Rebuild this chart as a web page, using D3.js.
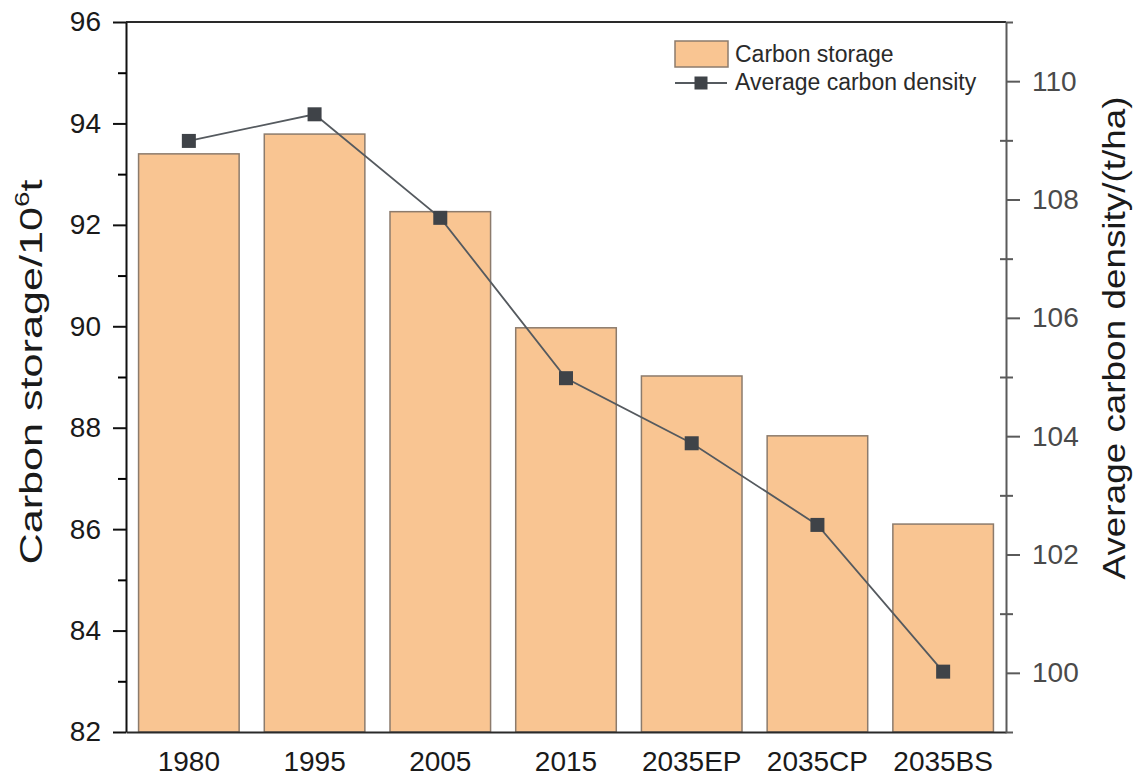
<!DOCTYPE html>
<html>
<head>
<meta charset="utf-8">
<script src="https://cdn.jsdelivr.net/npm/d3@7"></script>
<style>
  body { margin: 0; background: #fff; }
  svg text { font-family: "Liberation Sans", Arial, Helvetica, sans-serif; }
</style>
</head>
<body>
<svg id="chart" width="1135" height="781"></svg>
<script>
// Scenario / year categories
const categories = ["1980", "1995", "2005", "2015", "2035EP", "2035CP", "2035BS"];
// Carbon storage (10^6 t) – bars, left axis
const carbonStorage = [93.40, 93.79, 92.26, 89.97, 89.02, 87.84, 86.10];
// Average carbon density (t/ha) – line, right axis
const carbonDensity = [108.99, 109.44, 107.69, 104.98, 103.88, 102.50, 100.02];
// Axis ticks
const leftTicks = [82, 84, 86, 88, 90, 92, 94, 96];
const leftMinorTicks = [83, 85, 87, 89, 91, 93, 95];
const rightTicks = [100, 102, 104, 106, 108, 110];
const rightMinorTicks = [101, 103, 105, 107, 109];

const svg = d3.select("#chart");
const plot = { left: 126, right: 1006, top: 22, bottom: 732 };

const x = d3.scaleBand()
  .domain(categories)
  .range([plot.left, plot.right])
  .paddingInner(0.2)
  .paddingOuter(0.1);

const yLeft = d3.scaleLinear().domain([82, 96]).range([plot.bottom, plot.top]);
const yRight = d3.scaleLinear().domain([99, 111]).range([plot.bottom, plot.top]);

const barFill = "#f9c592";
const barStroke = "#8c7b6c";

// Bars
svg.append("g")
  .selectAll("rect")
  .data(categories.map((c, i) => ({ c, v: carbonStorage[i] })))
  .join("rect")
  .attr("x", d => x(d.c))
  .attr("y", d => yLeft(d.v))
  .attr("width", x.bandwidth())
  .attr("height", d => yLeft(82) - yLeft(d.v))
  .attr("fill", barFill)
  .attr("stroke", barStroke)
  .attr("stroke-width", 1.5);

// Top frame line
svg.append("line")
  .attr("x1", plot.left).attr("x2", plot.right)
  .attr("y1", plot.top).attr("y2", plot.top)
  .attr("stroke", "#2a2a2a").attr("stroke-width", 2);

// Left axis
const leftAxis = svg.append("g")
  .attr("transform", `translate(${plot.left},0)`)
  .call(d3.axisLeft(yLeft).tickValues(leftTicks).tickSize(13).tickSizeOuter(0).tickPadding(12));
svg.append("g")
  .attr("transform", `translate(${plot.left},0)`)
  .call(d3.axisLeft(yLeft).tickValues(leftMinorTicks).tickSize(8).tickSizeOuter(0).tickFormat(""))
  .call(g => g.select(".domain").remove());
leftAxis.selectAll("path, line").attr("stroke", "#111").attr("stroke-width", 2);
svg.selectAll("g line").attr("stroke-width", 2);
leftAxis.selectAll("text").attr("font-size", 28).attr("fill", "#1a1a1a");

// Bottom axis
const bottomAxis = svg.append("g")
  .attr("transform", `translate(0,${plot.bottom})`)
  .call(d3.axisBottom(x).tickSize(0).tickSizeOuter(0).tickPadding(19));
bottomAxis.select(".domain").attr("stroke", "#2a2a2a").attr("stroke-width", 2);
bottomAxis.selectAll("text").attr("font-size", 28).attr("fill", "#1a1a1a");

// Right axis
const rightColor = "#5a5a5a";
const rightAxis = svg.append("g")
  .attr("transform", `translate(${plot.right},0)`)
  .call(d3.axisRight(yRight).tickValues(rightTicks).tickSize(14).tickSizeOuter(7).tickPadding(12));
rightAxis.selectAll("path, line").attr("stroke", rightColor).attr("stroke-width", 2);
rightAxis.selectAll("text").attr("font-size", 28).attr("fill", "#4a4a4a");
// minor ticks crossing the right axis
svg.append("g")
  .attr("transform", `translate(${plot.right},0)`)
  .call(d3.axisRight(yRight).tickValues(rightMinorTicks).tickSize(7).tickSizeOuter(0).tickFormat(""))
  .call(g => g.select(".domain").remove())
  .selectAll("line").attr("stroke", rightColor).attr("stroke-width", 2);
svg.append("g")
  .attr("transform", `translate(${plot.right},0)`)
  .call(d3.axisLeft(yRight).tickValues(rightMinorTicks).tickSize(6).tickSizeOuter(0).tickFormat(""))
  .call(g => g.select(".domain").remove())
  .selectAll("line").attr("stroke", rightColor).attr("stroke-width", 2);

// Density line and markers
const pts = categories.map((c, i) => ({ c, v: carbonDensity[i] }));
const cx = d => x(d.c) + x.bandwidth() / 2;
svg.append("path")
  .datum(pts)
  .attr("fill", "none")
  .attr("stroke", "#555a5f")
  .attr("stroke-width", 1.8)
  .attr("d", d3.line().x(cx).y(d => yRight(d.v)));
const ms = 14;
svg.append("g")
  .selectAll("rect")
  .data(pts)
  .join("rect")
  .attr("x", d => cx(d) - ms / 2)
  .attr("y", d => yRight(d.v) - ms / 2)
  .attr("width", ms).attr("height", ms)
  .attr("fill", "#3f4348");

// Axis titles
const leftTitle = svg.append("text")
  .attr("transform", "translate(42,372) rotate(-90)")
  .attr("text-anchor", "middle")
  .attr("font-size", 31)
  .attr("fill", "#1a1a1a")
  .attr("textLength", 385)
  .attr("lengthAdjust", "spacingAndGlyphs");
leftTitle.append("tspan").text("Carbon storage/10");
leftTitle.append("tspan").attr("font-size", 20).attr("dy", -13).text("6");
leftTitle.append("tspan").attr("dy", 13).text("t");

svg.append("text")
  .attr("transform", "translate(1125,338) rotate(-90)")
  .attr("text-anchor", "middle")
  .attr("font-size", 31)
  .attr("fill", "#1a1a1a")
  .attr("textLength", 483)
  .attr("lengthAdjust", "spacingAndGlyphs")
  .text("Average carbon density/(t/ha)");

// Legend
const legend = svg.append("g");
legend.append("rect")
  .attr("x", 675).attr("y", 41).attr("width", 53).attr("height", 26)
  .attr("fill", barFill).attr("stroke", barStroke).attr("stroke-width", 1.5);
legend.append("text")
  .attr("x", 735).attr("y", 62).attr("font-size", 23).attr("fill", "#2a2a2a")
  .text("Carbon storage");
legend.append("line")
  .attr("x1", 675).attr("x2", 727).attr("y1", 83).attr("y2", 83)
  .attr("stroke", "#555a5f").attr("stroke-width", 1.8);
legend.append("rect")
  .attr("x", 701 - 6.5).attr("y", 83 - 6.5).attr("width", 13).attr("height", 13)
  .attr("fill", "#3f4348");
legend.append("text")
  .attr("x", 735).attr("y", 90).attr("font-size", 23).attr("fill", "#2a2a2a")
  .text("Average carbon density");
</script>
</body>
</html>
